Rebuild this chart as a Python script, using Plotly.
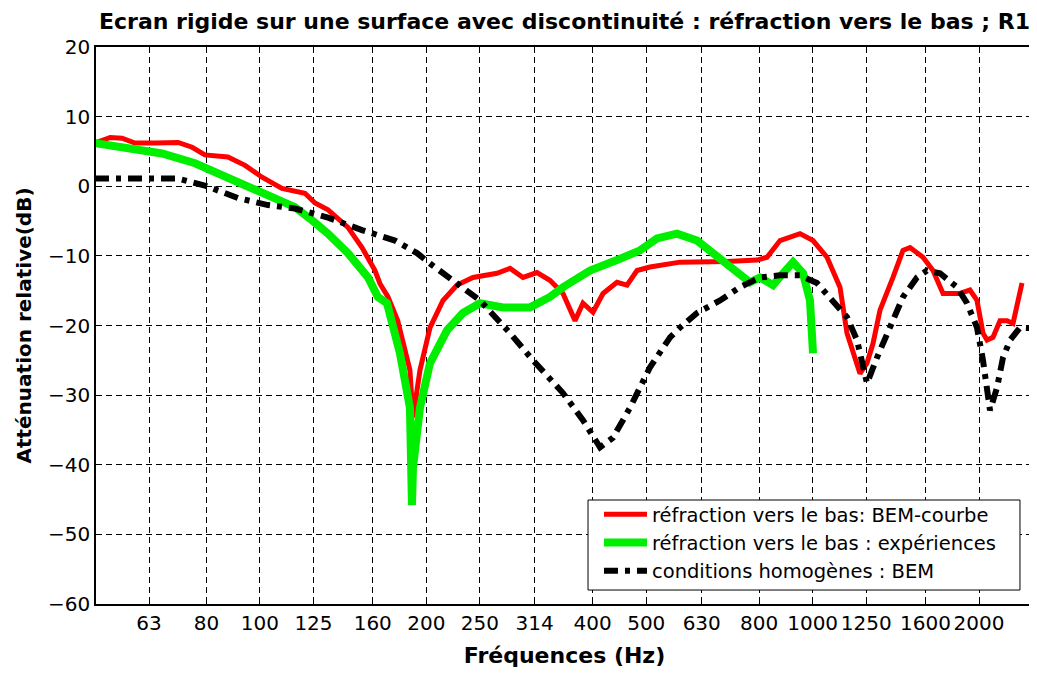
import plotly.graph_objects as go

# Frequencies (Hz) and attenuation (dB)
red_f = [50.3, 53.6, 56.3, 59.4, 64.6, 71.1, 75.4, 79.5, 87.5, 94, 100.9, 109.6, 120.6, 125.8,
         132.8, 144.3, 153, 161.5, 164.9, 170.5, 177.5, 186.8, 189.2, 194.8, 203.1, 214.4, 227.3,
         242.9, 268.5, 283.5, 299.2, 317.1, 334.7, 353.4, 371.6, 384.1, 400.5, 417.6, 442.6,
         461.5, 481.1, 507.9, 575.4, 625.5, 700, 793.1, 826.9, 873, 948.6, 1001.6, 1061.7,
         1120.7, 1153.9, 1218, 1254.2, 1285.8, 1323.9, 1397.6, 1457.1, 1500.4, 1583.8, 1651.2,
         1721.5, 1847.6, 1926.2, 1983.4, 2033.4, 2067.9, 2120, 2183, 2247.8, 2304.4, 2343.4, 2392.4]
red_db = [6.2, 7.0, 6.9, 6.2, 6.2, 6.3, 5.6, 4.5, 4.2, 3.0, 1.3, -0.3, -1.0, -2.4,
          -3.4, -5.9, -8.8, -12.1, -14.0, -15.9, -19.3, -26.4, -33.2, -26.4, -20.3, -16.4, -14.2,
          -13.1, -12.5, -11.8, -13.1, -12.4, -13.5, -15.4, -19.3, -16.8, -18.1, -15.4, -13.8,
          -14.2, -12.1, -11.6, -10.9, -10.9, -10.8, -10.6, -10.2, -7.8, -6.8, -7.8, -10.2,
          -14.5, -21.1, -26.9, -25.4, -22.6, -17.8, -13.1, -9.2, -8.8, -10.2, -12.1,
          -15.4, -15.4, -14.9, -16.4, -21.1, -22.1, -21.7, -19.3, -19.3, -19.7, -17.4, -13.9]

green_f = [50.3, 57.7, 66.5, 76.3, 87.5, 100.9, 115.7, 124.3, 132.8, 144.3, 156.9, 163.5, 169.8,
           179.2, 186.8, 188.4, 189.2, 194.8, 203.1, 218, 233, 250.1, 275.3, 308, 334.7, 353.4,
           395.5, 442.6, 487.2, 522.9, 568.4, 617.8, 671.4, 717.6, 770.3, 803, 847.8, 884, 921.5,
           960.7, 989, 1001.6]
green_db = [6.2, 5.6, 4.7, 3.3, 1.3, -0.9, -3.0, -4.9, -6.8, -9.6, -13.1, -15.9, -16.8,
            -24.0, -31.8, -45.8, -40.4, -31.8, -25.4, -20.7, -18.2, -16.8, -17.4, -17.4, -15.9, -14.5,
            -12.1, -10.6, -9.2, -7.5, -6.8, -7.8, -10.2, -12.1, -13.8, -13.1, -14.2, -12.5, -10.9,
            -12.5, -16.4, -24.0]

black_f = [50.3, 57.7, 64.6, 71.1, 79.5, 91.3, 103.4, 115.7, 132.8, 153, 175.5, 192.4, 203.1,
           233, 250.1, 283.5, 311.9, 353.4, 384.1, 412.4, 435.4, 467.3, 507.9, 552.1, 575.4,
           617.8, 679.9, 738.9, 803, 873, 948.6, 1018.4, 1088.7, 1153.9, 1203, 1254.2, 1307.6,
           1380.4, 1457.1, 1544.6, 1610.3, 1699.8, 1824.8, 1902.4, 1983.4, 2033.4, 2093.8, 2156,
           2210.3, 2275.9, 2372.7, 2504]
black_db = [1.1, 1.1, 1.3, 1.1, 0.1, -1.7, -2.7, -3.2, -4.5, -6.3, -7.8, -9.6, -11.1,
            -14.5, -16.4, -21.1, -25.0, -29.7, -33.6, -37.5, -36.1, -31.8, -26.0, -21.7, -20.3,
            -18.2, -16.4, -14.5, -13.1, -12.8, -12.8, -13.9, -16.4, -18.8, -22.1, -28.3, -24.6,
            -20.3, -15.9, -13.1, -12.1, -12.5, -14.5, -16.8, -20.3, -25.0, -32.2, -28.9,
            -24.6, -22.1, -20.3, -20.4]

tick_vals = [63, 80, 100, 125, 160, 200, 250, 314, 400, 500, 630, 800, 1000, 1250, 1600, 2000]
tick_text = ["63", "80", "100", "125", "160", "200", "250", "314", "400", "500", "630", "800",
             "1000", "1250", "1600", "2000"]
y_ticks = [20, 10, 0, -10, -20, -30, -40, -50, -60]

names = ["réfraction vers le bas: BEM-courbe",
         "réfraction vers le bas : expériences",
         "conditions homogènes : BEM"]

FONT = "DejaVu Sans, Verdana, sans-serif"

fig = go.Figure()
fig.add_trace(go.Scatter(x=red_f, y=red_db, mode="lines", name=names[0],
                         line=dict(color="#ff0000", width=5)))
fig.add_trace(go.Scatter(x=green_f, y=green_db, mode="lines", name=names[1],
                         line=dict(color="#00ee00", width=8)))
fig.add_trace(go.Scatter(x=black_f, y=black_db, mode="lines", name=names[2],
                         line=dict(color="#000000", width=6, dash="14px,7px,5px,7px")))

axis_common = dict(showline=True, linecolor="black", linewidth=1.5, mirror="ticks",
                   ticks="inside", ticklen=6, tickcolor="black", tickwidth=1,
                   showgrid=True, gridcolor="black", gridwidth=1, griddash="6px,4px",
                   zeroline=False, tickfont=dict(family=FONT, size=20, color="black"))

fig.update_xaxes(type="log", range=[1.7034, 3.3987], tickvals=tick_vals, ticktext=tick_text,
                 title=dict(text="<b>Fréquences (Hz)</b>", font=dict(family=FONT, size=22, color="black"),
                            standoff=14),
                 **axis_common)
fig.update_yaxes(range=[-60, 20], tickvals=y_ticks,
                 title=dict(text="<b>Atténuation relative(dB)</b>", font=dict(family=FONT, size=20, color="black"),
                            standoff=11),
                 **axis_common)

# opaque legend frame (drawn over the curves, like the reference)
fig.add_shape(type="rect", xref="paper", yref="paper",
              x0=0.5251, x1=0.9861, y0=0.0251, y1=0.1867,
              line=dict(color="black", width=1), fillcolor="white", layer="above")

# the page body has an 8px margin, so the figure is sized and offset accordingly
fig.update_layout(
    width=1029, height=661,
    margin=dict(l=88, r=4, t=39, b=65, autoexpand=False),
    paper_bgcolor="white", plot_bgcolor="white",
    title=dict(text="<b>Ecran rigide sur une surface avec discontinuité : réfraction vers le bas ; R1</b>",
               font=dict(family=FONT, size=22, color="black"),
               x=0.5, xref="paper", xanchor="center", y=1 - 13.5 / 661, yref="container", yanchor="middle"),
    legend=dict(x=0.5368, y=0.1957, xanchor="left", yanchor="top",
                bgcolor="rgba(0,0,0,0)", borderwidth=0, itemwidth=43,
                font=dict(family=FONT, size=19.5, color="black")),
    showlegend=True,
)

fig.write_html("out.html")
